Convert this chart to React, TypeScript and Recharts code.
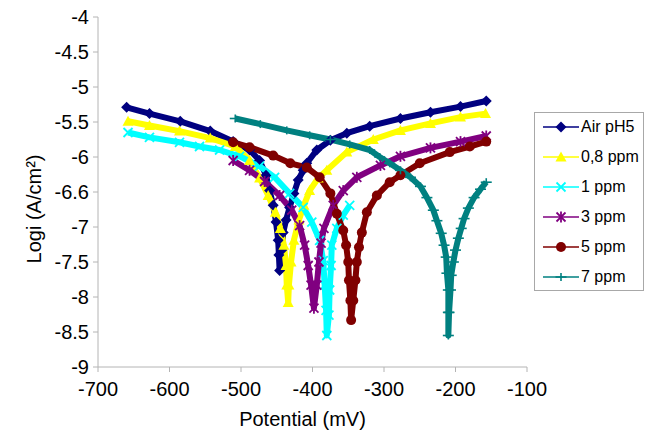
import { LineChart, Line, XAxis, YAxis } from 'recharts'

// potential (mV), log i (A/cm2)
const AIR_PH5: [number, number][] = [
    [-660, -5.29], [-628, -5.38], [-585, -5.49], [-543, -5.63], [-511, -5.78], [-488, -5.9],
    [-474, -6.05], [-465, -6.26], [-460, -6.48], [-455, -6.69], [-451, -6.93], [-448, -7.19],
    [-447, -7.4], [-446, -7.62], [-443, -7.33], [-441, -7.08], [-437, -6.9], [-432, -6.72],
    [-426, -6.52], [-420, -6.33], [-413, -6.19], [-408, -6.09], [-394, -5.9], [-375, -5.76],
    [-352, -5.66], [-320, -5.56], [-277, -5.45], [-235, -5.36], [-193, -5.28], [-157, -5.2],
]
const PPM_08: [number, number][] = [
    [-658, -5.49], [-628, -5.55], [-586, -5.63], [-543, -5.73], [-508, -5.85], [-488, -6.05],
    [-474, -6.3], [-462, -6.55], [-452, -6.79], [-445, -7.02], [-440, -7.26], [-437, -7.55],
    [-436, -7.83], [-434, -8.08], [-433, -7.83], [-430, -7.5], [-426, -7.19], [-419, -6.9],
    [-412, -6.69], [-404, -6.48], [-392, -6.3], [-380, -6.19], [-352, -5.93], [-315, -5.75],
    [-277, -5.62], [-235, -5.52], [-193, -5.43], [-158, -5.38],
]
const PPM_1: [number, number][] = [
    [-658, -5.65], [-628, -5.72], [-586, -5.79], [-558, -5.85], [-530, -5.9], [-502, -5.99],
    [-474, -6.13], [-453, -6.29], [-432, -6.52], [-413, -6.72], [-401, -6.93], [-390, -7.19],
    [-385, -7.48], [-383, -7.83], [-381, -8.19], [-380, -8.55], [-377, -8.26], [-376, -7.9],
    [-374, -7.55], [-373, -7.26], [-366, -7.02], [-357, -6.83], [-348, -6.69],
]
const PPM_3: [number, number][] = [
    [-511, -6.05], [-488, -6.19], [-467, -6.35], [-446, -6.55], [-429, -6.76], [-418, -6.98],
    [-411, -7.26], [-406, -7.55], [-402, -7.83], [-398, -8.16], [-394, -7.83], [-391, -7.5],
    [-388, -7.23], [-384, -7.02], [-371, -6.69], [-357, -6.48], [-338, -6.29], [-305, -6.12],
    [-277, -5.99], [-235, -5.87], [-193, -5.78], [-157, -5.7],
]
const PPM_5: [number, number][] = [
    [-511, -5.79], [-488, -5.86], [-455, -5.98], [-431, -6.09], [-408, -6.15], [-390, -6.29],
    [-375, -6.52], [-366, -6.81], [-357, -7.05], [-353, -7.26], [-350, -7.5], [-349, -7.76],
    [-347, -8.05], [-346, -8.33], [-343, -8.05], [-340, -7.76], [-338, -7.5], [-335, -7.29],
    [-331, -7.08], [-324, -6.79], [-310, -6.55], [-292, -6.36], [-277, -6.26], [-250, -6.09],
    [-208, -5.93], [-180, -5.85], [-157, -5.78],
]
const PPM_7: [number, number][] = [
    [-508, -5.45], [-473, -5.53], [-436, -5.62], [-404, -5.69], [-375, -5.75], [-348, -5.82],
    [-320, -5.9], [-306, -6.0], [-292, -6.09], [-277, -6.19], [-263, -6.29], [-249, -6.42],
    [-240, -6.58], [-231, -6.76], [-226, -6.91], [-220, -7.09], [-216, -7.26], [-213, -7.43],
    [-212, -7.66], [-210, -7.9], [-210, -8.22], [-210, -8.55], [-209, -8.22], [-207, -7.9],
    [-206, -7.69], [-203, -7.5], [-200, -7.33], [-196, -7.16], [-192, -7.02], [-188, -6.88],
    [-182, -6.73], [-174, -6.58], [-165, -6.46], [-157, -6.36],
]

const SERIES_NAMES = ['Air pH5', '0,8 ppm', '1 ppm', '3 ppm', '5 ppm', '7 ppm']
const SERIES_DATA = [AIR_PH5, PPM_08, PPM_1, PPM_3, PPM_5, PPM_7]
const SERIES_COLORS = ['#000080', '#ffff00', '#00ffff', '#800080', '#800000', '#008080']
const SERIES_MARKERS = ['diamond', 'triangle', 'cross', 'star', 'circle', 'plus']

const X_TICKS = [-700, -600, -500, -400, -300, -200, -100]
const Y_TICKS = [-9, -8.5, -8, -7.5, -7, -6.5, -6, -5.5, -5, -4.5, -4]
const Y_TICK_LABELS = ['-9', '-8.5', '-8', '-7.5', '-7', '-6.6', '-6', '-5.5', '-5', '-4.5', '-4']

const FONT = '"Liberation Sans", Arial, sans-serif'
const AXIS_GRAY = '#b4b4b4'

function Marker({ cx, cy, shape, color }: { cx: number; cy: number; shape: string; color: string }) {
    if (cx == null || cy == null) return null
    switch (shape) {
        case 'diamond':
            return <polygon points={`${cx},${cy - 5.5} ${cx + 5.5},${cy} ${cx},${cy + 5.5} ${cx - 5.5},${cy}`} fill={color} />
        case 'triangle':
            return <polygon points={`${cx},${cy - 5.5} ${cx + 5.5},${cy + 4.5} ${cx - 5.5},${cy + 4.5}`} fill={color} />
        case 'cross':
            return (
                <g stroke={color} strokeWidth={1.8}>
                    <line x1={cx - 4.5} y1={cy - 4.5} x2={cx + 4.5} y2={cy + 4.5} />
                    <line x1={cx - 4.5} y1={cy + 4.5} x2={cx + 4.5} y2={cy - 4.5} />
                </g>
            )
        case 'star':
            return (
                <g stroke={color} strokeWidth={1.8}>
                    <line x1={cx - 4.5} y1={cy - 4.5} x2={cx + 4.5} y2={cy + 4.5} />
                    <line x1={cx - 4.5} y1={cy + 4.5} x2={cx + 4.5} y2={cy - 4.5} />
                    <line x1={cx} y1={cy - 5.5} x2={cx} y2={cy + 5.5} />
                </g>
            )
        case 'circle':
            return <circle cx={cx} cy={cy} r={5} fill={color} />
        default:
            return (
                <g stroke={color} strokeWidth={1.6}>
                    <line x1={cx - 5.5} y1={cy} x2={cx + 5.5} y2={cy} />
                    <line x1={cx} y1={cy - 4} x2={cx} y2={cy + 4} />
                </g>
            )
    }
}

function ChartLegend() {
    return (
        <div
            style={{
                position: 'absolute',
                left: 534,
                top: 112,
                width: 108,
                height: 177,
                border: '1px solid #a8a8a8',
                background: '#fff',
                fontFamily: FONT,
                fontSize: 16,
            }}
        >
            {SERIES_NAMES.map((name, i) => (
                <div key={name} style={{ position: 'absolute', left: 8, top: 4 + i * 30, height: 20, display: 'flex', alignItems: 'center', whiteSpace: 'nowrap' }}>
                    <svg width={37} height={20}>
                        <line x1={0} y1={10} x2={36} y2={10} stroke={SERIES_COLORS[i]} strokeWidth={1.5} />
                        <Marker cx={18} cy={10} shape={SERIES_MARKERS[i]} color={SERIES_COLORS[i]} />
                    </svg>
                    <span style={{ marginLeft: 1 }}>{name}</span>
                </div>
            ))}
        </div>
    )
}

export default function App() {
    const tickStyle = { fill: '#000', fontSize: 20, fontFamily: FONT }
    return (
        <div style={{ position: 'absolute', left: 0, top: 0, width: 648, height: 432, background: '#fff' }}>
            <LineChart width={648} height={432} margin={{ top: 17, right: 121, bottom: 0, left: 0 }}>
                <XAxis
                    xAxisId="main"
                    type="number"
                    dataKey="x"
                    domain={[-700, -100]}
                    ticks={X_TICKS}
                    height={65}
                    stroke={AXIS_GRAY}
                    tickSize={5}
                    tickMargin={10}
                    tick={tickStyle}
                    allowDataOverflow
                    label={{ value: 'Potential (mV)', position: 'insideBottom', offset: 6, dx: -10, style: { fill: '#000', fontSize: 20, fontFamily: FONT } }}
                />
                <XAxis xAxisId="top" orientation="top" type="number" domain={[-700, -100]} height={0} stroke={AXIS_GRAY} tick={false} tickLine={false} />
                <YAxis
                    yAxisId="main"
                    type="number"
                    domain={[-9, -4]}
                    ticks={Y_TICKS}
                    width={98}
                    stroke={AXIS_GRAY}
                    tickSize={5}
                    tickMargin={4}
                    tick={tickStyle}
                    tickFormatter={(v: number) => Y_TICK_LABELS[Y_TICKS.indexOf(v)] ?? String(v)}
                    label={{ value: 'Logi (A/cm²)', angle: -90, position: 'center', dx: -15, dy: 17, style: { fill: '#000', fontSize: 20, fontFamily: FONT, textAnchor: 'middle' } }}
                />
                <YAxis yAxisId="right" orientation="right" type="number" domain={[-9, -4]} width={0} stroke={AXIS_GRAY} tick={false} tickLine={false} />
                {SERIES_DATA.map((pts, i) => (
                    <Line
                        key={SERIES_NAMES[i]}
                        xAxisId="main"
                        yAxisId="main"
                        name={SERIES_NAMES[i]}
                        data={pts.map(([x, y]) => ({ x, y }))}
                        dataKey="y"
                        stroke={SERIES_COLORS[i]}
                        strokeWidth={6}
                        strokeLinejoin="round"
                        dot={(p: any) => (
                            <Marker key={`${i}-${p.index}`} cx={p.cx} cy={p.cy} shape={SERIES_MARKERS[i]} color={SERIES_COLORS[i]} />
                        )}
                        activeDot={false}
                        isAnimationActive={false}
                    />
                ))}
            </LineChart>
            <ChartLegend />
        </div>
    )
}
